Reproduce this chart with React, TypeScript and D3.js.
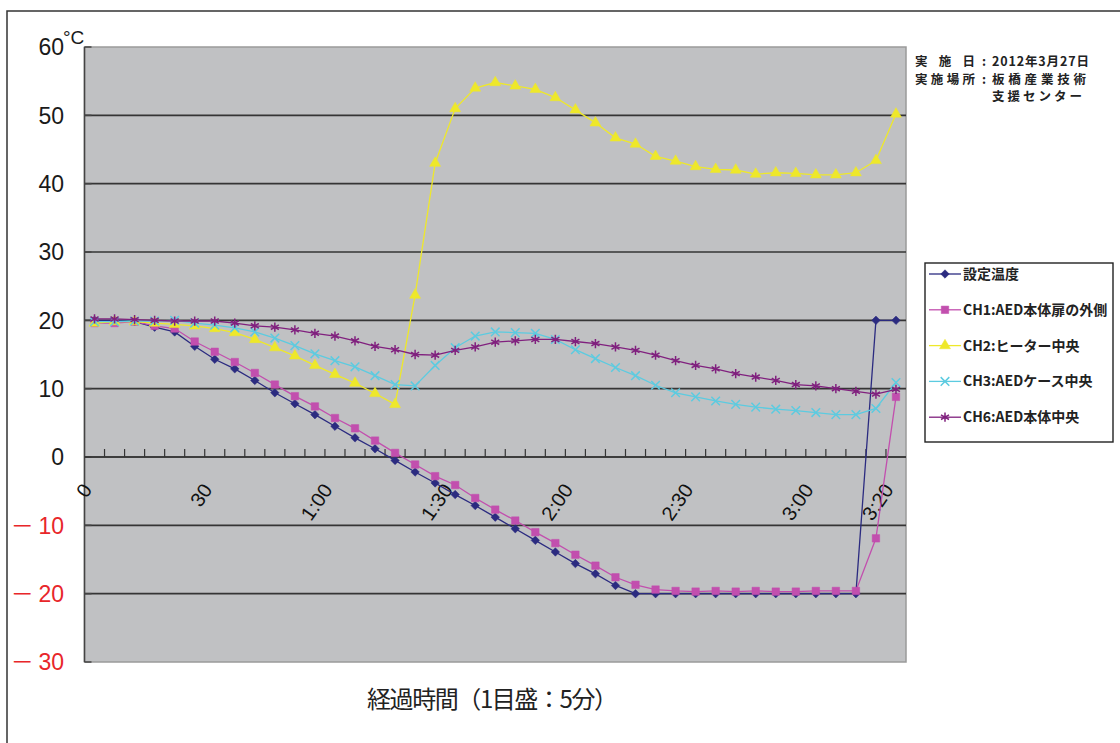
import React, { useEffect, useRef } from 'react';
import * as d3 from 'd3';

// 5-minute slots, 0:00 .. 3:25
const slots = [
  0, 1, 2, 3, 4, 5, 6, 7, 8, 9, 10, 11, 12, 13, 14, 15, 16, 17, 18, 19, 20,
  21, 22, 23, 24, 25, 26, 27, 28, 29, 30, 31, 32, 33, 34, 35, 36, 37, 38, 39, 40,
];
const labelSlots = [0, 6, 12, 18, 24, 30, 36, 40];
const labelTexts = ['0', '30', '1:00', '1:30', '2:00', '2:30', '3:00', '3:20'];
const yTicks = [-30, -20, -10, 0, 10, 20, 30, 40, 50, 60];

const setTemp = [
  20, 20, 19.8, 19.0, 18.3, 16.2, 14.3, 12.9, 11.2, 9.4, 7.8, 6.2, 4.5, 2.8, 1.2, -0.5, -2.2,
  -3.8, -5.5, -7.1, -8.8, -10.5, -12.2, -13.9, -15.6, -17.1, -18.8, -20, -20, -20, -20, -20,
  -20, -20, -20, -20, -20, -20, -20, 20, 20,
];
const ch1 = [
  19.6, 19.6, 19.8, 19.2, 18.8, 16.9, 15.4, 13.9, 12.3, 10.6, 8.9, 7.4, 5.7, 4.2, 2.4, 0.6, -1.1,
  -2.8, -4.1, -6.0, -7.7, -9.3, -11.0, -12.6, -14.3, -15.9, -17.6, -18.7, -19.4, -19.6, -19.7,
  -19.6, -19.7, -19.6, -19.7, -19.7, -19.6, -19.6, -19.6, -11.9, 8.8,
];
const ch2 = [
  19.6, 19.8, 19.8, 19.6, 19.4, 19.2, 18.8, 18.2, 17.2, 16.0, 14.8, 13.4, 12.1, 10.8, 9.3, 7.7,
  23.7, 43.0, 51.0, 54.0, 54.8, 54.3, 53.8, 52.6, 50.8, 48.9, 46.7, 45.8, 44.0, 43.3, 42.5, 42.1,
  42.0, 41.4, 41.6, 41.5, 41.3, 41.3, 41.6, 43.4, 50.2,
];
const ch3 = [
  19.8, 19.8, 19.9, 19.9, 20.0, 19.6, 19.3, 18.9, 18.3, 17.4, 16.3, 15.1, 14.1, 13.2, 11.9, 10.6,
  10.4, 13.4, 16.0, 17.7, 18.3, 18.2, 18.1, 17.2, 15.7, 14.4, 13.1, 11.9, 10.5, 9.4, 8.8, 8.2,
  7.7, 7.3, 7.0, 6.8, 6.5, 6.2, 6.2, 7.1, 10.9,
];
const ch6 = [
  20.2, 20.2, 20.1, 20.0, 19.9, 19.9, 19.9, 19.6, 19.2, 19.0, 18.6, 18.1, 17.7, 17.0, 16.2, 15.7,
  15.0, 14.9, 15.6, 16.1, 16.8, 17.0, 17.2, 17.2, 16.9, 16.6, 16.1, 15.6, 14.9, 14.1, 13.4, 12.9,
  12.2, 11.7, 11.2, 10.6, 10.4, 10.0, 9.6, 9.2, 9.9,
];

const seriesNames = [
  '設定温度',
  'CH1:AED本体扉の外側',
  'CH2:ヒーター中央',
  'CH3:AEDケース中央',
  'CH6:AED本体中央',
];
const seriesValues = [setTemp, ch1, ch2, ch3, ch6];
const seriesColors = ['#2b2b80', '#c24fae', '#eee82a', '#5ccbe0', '#80207e'];

const LATIN = "'Liberation Sans', Arial, sans-serif";
const CJK = "'Noto Sans CJK JP', sans-serif";

const App: React.FC = () => {
  const chartRef = useRef<SVGSVGElement>(null);

  useEffect(() => {
    if (!chartRef.current) return;
    const svg = d3.select(chartRef.current);
    svg.selectAll('*').remove();

    const left = 84.5;
    const right = 906;
    const top = 47;
    const bottom = 662;

    const x = d3.scaleBand<number>().domain(slots).range([left, right]).padding(0);
    const y = d3.scaleLinear().domain([-30, 60]).range([bottom, top]);
    const cx = (i: number) => (x(i) as number) + x.bandwidth() / 2;

    // outer frame
    svg.append('path')
      .attr('d', `M7,743V11H1120`)
      .attr('fill', 'none')
      .attr('stroke', '#333')
      .attr('stroke-width', 1.5);

    // plot area
    svg.append('rect')
      .attr('x', left).attr('y', top)
      .attr('width', right - left).attr('height', bottom - top)
      .attr('fill', '#c0c1c3')
      .attr('stroke', '#9a9a9a')
      .attr('stroke-width', 1.5);

    // grid lines
    svg.selectAll('line.grid')
      .data(yTicks.filter(t => t > -30 && t < 60))
      .enter()
      .append('line')
      .attr('class', 'grid')
      .attr('x1', left).attr('x2', right)
      .attr('y1', d => y(d)).attr('y2', d => y(d))
      .attr('stroke', '#353535')
      .attr('stroke-width', 1.6);

    // y axis line + inward ticks
    svg.append('line')
      .attr('x1', left).attr('x2', left)
      .attr('y1', top).attr('y2', bottom)
      .attr('stroke', '#444').attr('stroke-width', 1.5);
    svg.selectAll('line.ytick')
      .data(yTicks)
      .enter()
      .append('line')
      .attr('class', 'ytick')
      .attr('x1', left).attr('x2', left + 7)
      .attr('y1', d => y(d)).attr('y2', d => y(d))
      .attr('stroke', '#444').attr('stroke-width', 1.5);

    // y labels
    svg.selectAll('text.ylab')
      .data(yTicks)
      .enter()
      .append('text')
      .attr('class', 'ylab')
      .attr('x', 64)
      .attr('y', d => y(d))
      .attr('dy', '0.36em')
      .attr('text-anchor', 'end')
      .attr('font-family', `${LATIN}, ${CJK}`)
      .attr('font-size', 23)
      .attr('fill', d => (d < 0 ? '#e8262a' : '#1a1a1a'))
      .text(d => (d < 0 ? `－\u2009${-d}` : `${d}`));

    svg.append('text')
      .attr('x', 63).attr('y', 44)
      .attr('font-family', LATIN)
      .attr('font-size', 19)
      .attr('fill', '#1a1a1a')
      .text('°C');

    // x axis at 0 with upward ticks
    const y0 = y(0);
    svg.append('line')
      .attr('x1', left).attr('x2', right)
      .attr('y1', y0).attr('y2', y0)
      .attr('stroke', '#353535').attr('stroke-width', 1.6);
    svg.selectAll('line.xtick')
      .data(slots.slice(1))
      .enter()
      .append('line')
      .attr('class', 'xtick')
      .attr('x1', d => x(d) as number).attr('x2', d => x(d) as number)
      .attr('y1', y0).attr('y2', y0 - 8)
      .attr('stroke', '#353535').attr('stroke-width', 1.2);

    // rotated time labels
    svg.selectAll('text.xlab')
      .data(labelSlots)
      .enter()
      .append('text')
      .attr('class', 'xlab')
      .attr('transform', d => `translate(${(x(d) as number) + 8.5},${y0 + 33}) rotate(-55)`)
      .attr('text-anchor', 'end')
      .attr('font-family', LATIN)
      .attr('font-size', 20)
      .attr('fill', '#111')
      .text((d, i) => labelTexts[i]);

    // series
    const line = d3.line<number>()
      .x((d, i) => cx(i))
      .y(d => y(d));

    const markers = [
      { type: d3.symbolSquare, size: 36, rotate: 45, filled: true },
      { type: d3.symbolSquare, size: 56, rotate: 0, filled: true },
      { type: d3.symbolTriangle, size: 52, rotate: 0, filled: true },
      { type: d3.symbolTimes, size: 50, rotate: 0, filled: false },
      { type: d3.symbolAsterisk, size: 60, rotate: 0, filled: false },
    ];

    seriesValues.forEach((vals, s) => {
      const color = seriesColors[s];
      const m = markers[s];
      svg.append('path')
        .datum(vals)
        .attr('d', line)
        .attr('fill', 'none')
        .attr('stroke', color)
        .attr('stroke-width', 1.3);

      const sym = d3.symbol().type(m.type).size(m.size)();
      svg.append('g')
        .selectAll('path')
        .data(vals)
        .enter()
        .append('path')
        .attr('d', sym)
        .attr('transform', (d, i) => `translate(${cx(i)},${y(d)}) rotate(${m.rotate})`)
        .attr('fill', m.filled ? color : 'none')
        .attr('stroke', color)
        .attr('stroke-width', m.filled ? 0.5 : 1.5);
    });

    // legend
    const lg = svg.append('g');
    lg.append('rect')
      .attr('x', 925).attr('y', 263)
      .attr('width', 188).attr('height', 179)
      .attr('fill', '#fff')
      .attr('stroke', '#222')
      .attr('stroke-width', 1.4);

    seriesNames.forEach((name, s) => {
      const ly = 274 + s * 35.8;
      const color = seriesColors[s];
      const m = markers[s];
      lg.append('line')
        .attr('x1', 929).attr('x2', 961)
        .attr('y1', ly).attr('y2', ly)
        .attr('stroke', color).attr('stroke-width', 1.3);
      lg.append('path')
        .attr('d', d3.symbol().type(m.type).size(m.size)())
        .attr('transform', `translate(945,${ly}) rotate(${m.rotate})`)
        .attr('fill', m.filled ? color : 'none')
        .attr('stroke', color)
        .attr('stroke-width', m.filled ? 0.5 : 1.5);
      lg.append('text')
        .attr('x', 963).attr('y', ly)
        .attr('dy', '0.36em')
        .attr('font-family', CJK)
        .attr('font-weight', 'bold')
        .attr('font-size', 14)
        .attr('fill', '#222')
        .text(name);
    });

    // note block (top right)
    const note = svg.append('g')
      .attr('font-family', CJK)
      .attr('font-weight', 'bold')
      .attr('font-size', 12.5)
      .attr('fill', '#222');
    const noteRows = [
      { label: '実 施 日', value: '2012年3月27日', w: 97, y: 66 },
      { label: '実施場所', value: '板橋産業技術', w: 94, y: 84 },
      { label: '', value: '支援センター', w: 90, y: 101 },
    ];
    noteRows.forEach(r => {
      if (r.label) {
        note.append('text')
          .attr('x', 915).attr('y', r.y)
          .attr('textLength', 60).attr('lengthAdjust', 'spacing')
          .text(r.label);
        note.append('text')
          .attr('x', 984).attr('y', r.y)
          .attr('text-anchor', 'middle')
          .text(':');
      }
      note.append('text')
        .attr('x', 992).attr('y', r.y)
        .attr('textLength', r.w).attr('lengthAdjust', 'spacing')
        .text(r.value);
    });

    // x axis title
    svg.append('text')
      .attr('x', 492.5).attr('y', 708)
      .attr('text-anchor', 'middle')
      .attr('font-family', CJK)
      .attr('font-size', 24)
      .attr('fill', '#222')
      .attr('textLength', 251).attr('lengthAdjust', 'spacing')
      .text('経過時間（1目盛：5分）');
  }, []);

  return (
    <svg
      ref={chartRef}
      width={1120}
      height={743}
      style={{ position: 'absolute', left: 0, top: 0, background: '#fff', display: 'block' }}
    />
  );
};

export default App;
